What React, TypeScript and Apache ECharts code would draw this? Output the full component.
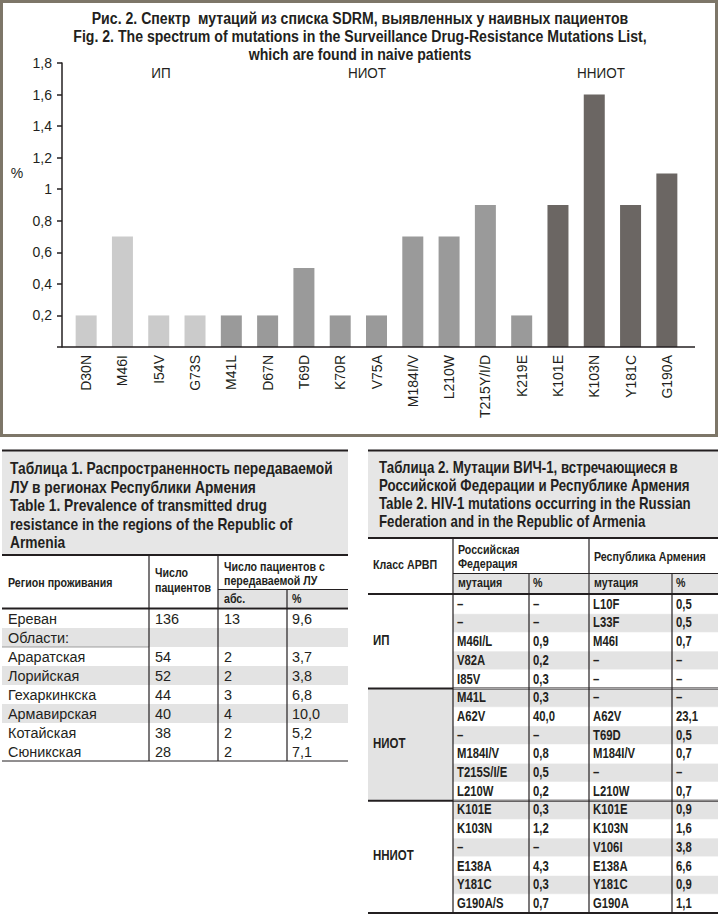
import React, { useEffect, useRef } from "react";
import * as echarts from "echarts";

// ---------- Chart data ----------
const categories = ["D30N", "M46I", "I54V", "G73S", "M41L", "D67N", "T69D", "K70R", "V75A", "M184I/V", "L210W", "T215Y/I/D", "K219E", "K101E", "K103N", "Y181C", "G190A"];
const values = [0.2, 0.7, 0.2, 0.2, 0.2, 0.2, 0.5, 0.2, 0.2, 0.7, 0.7, 0.9, 0.2, 0.9, 1.6, 0.9, 1.1];
const classOf = ["ИП", "ИП", "ИП", "ИП", "НИОТ", "НИОТ", "НИОТ", "НИОТ", "НИОТ", "НИОТ", "НИОТ", "НИОТ", "НИОТ", "ННИОТ", "ННИОТ", "ННИОТ", "ННИОТ"];
const classNames = ["ИП", "НИОТ", "ННИОТ"];
const yTicks = [0, 0.2, 0.4, 0.6, 0.8, 1, 1.2, 1.4, 1.6, 1.8];
const titleLines = [
  "Рис. 2. Спектр  мутаций из списка SDRM, выявленных у наивных пациентов",
  "Fig. 2. The spectrum of mutations in the Surveillance Drug-Resistance Mutations List,",
  "which are found in naive patients",
];

// ---------- Table 1 data ----------
const t1Title = [
  "Таблица 1. Распространенность передаваемой",
  "ЛУ в регионах Республики Армения",
  "Table 1. Prevalence of transmitted drug",
  "resistance in the regions of the Republic of",
  "Armenia",
];
const t1Regions = ["Ереван", "Области:", "Араратская", "Лорийская", "Гехаркинкска", "Армавирская", "Котайская", "Сюникская"];
const t1Patients = ["136", "", "54", "52", "44", "40", "38", "28"];
const t1Abs = ["13", "", "2", "2", "3", "4", "2", "2"];
const t1Pct = ["9,6", "", "3,7", "3,8", "6,8", "10,0", "5,2", "7,1"];

// ---------- Table 2 data ----------
const t2Title = [
  "Таблица 2. Мутации ВИЧ-1, встречающиеся в",
  "Российской Федерации и Республике Армения",
  "Table 2. HIV-1 mutations occurring in the Russian",
  "Federation and in the Republic of Armenia",
];
const t2Groups = ["ИП", "НИОТ", "ННИОТ"];
const t2GroupSizes = [5, 6, 6];
const t2RuMut = ["–", "–", "M46I/L", "V82A", "I85V", "M41L", "A62V", "–", "M184I/V", "T215S/I/E", "L210W", "K101E", "K103N", "–", "E138A", "Y181C", "G190A/S"];
const t2RuPct = ["–", "–", "0,9", "0,2", "0,3", "0,3", "40,0", "–", "0,8", "0,5", "0,2", "0,3", "1,2", "–", "4,3", "0,3", "0,7"];
const t2ArMut = ["L10F", "L33F", "M46I", "–", "–", "–", "A62V", "T69D", "M184I/V", "–", "L210W", "K101E", "K103N", "V106I", "E138A", "Y181C", "G190A"];
const t2ArPct = ["0,5", "0,5", "0,7", "–", "–", "–", "23,1", "0,5", "0,7", "–", "0,7", "0,9", "1,6", "3,8", "6,6", "0,9", "1,1"];

// ---------- Styles ----------
const INK = "#231f20";
const SANS = '"Liberation Sans", Arial, sans-serif';
const NX = 0.82; // horizontal squeeze to emulate a narrow face
const CLASS_COLORS: Record<string, string> = { "ИП": "#cbcbcb", "НИОТ": "#9a9a9a", "ННИОТ": "#6b6663" };
const GRAY = "#e3e3e3";

function txt(x: number, y: number, text: string, size: number, weight: string = "normal", align: string = "left", sx: number = NX) {
  return {
    type: "text",
    silent: true,
    z: 10,
    x,
    y,
    scaleX: sx,
    style: {
      text,
      fill: INK,
      fontSize: size,
      fontWeight: weight,
      fontFamily: SANS,
      align,
      verticalAlign: "middle",
      textAlign: align,
      textVerticalAlign: "middle",
    },
  };
}
function ln(x1: number, y1: number, x2: number, y2: number, w: number = 1, color: string = INK) {
  return { type: "line", silent: true, z: 8, shape: { x1, y1, x2, y2 }, style: { stroke: color, lineWidth: w } };
}
function rc(x: number, y: number, width: number, height: number, fill: string) {
  return { type: "rect", silent: true, z: 1, shape: { x, y, width, height }, style: { fill } };
}

function buildTable1(): any[] {
  const g: any[] = [];
  const L = 2, R = 348;
  const c1 = 149, c2 = 218, c3 = 287;
  g.push(rc(L, 451, R - L, 103, "#e6e6e6"));
  g.push(ln(L, 450.5, R, 450.5, 2));
  t1Title.forEach((s, i) => g.push(txt(10, 468 + i * 18.5, s, 16.8, "bold")));
  g.push(ln(L, 555, R, 555, 2));
  // header
  g.push(rc(c2, 590, R - c2, 17, GRAY));
  g.push(txt(8, 583, "Регион проживания", 13, "bold"));
  g.push(txt(155, 573, "Число", 13, "bold"));
  g.push(txt(155, 588, "пациентов", 13, "bold"));
  g.push(txt(224, 567, "Число пациентов с", 13, "bold"));
  g.push(txt(224, 581, "передаваемой ЛУ", 13, "bold"));
  g.push(txt(224, 599, "абс.", 13, "bold"));
  g.push(txt(292, 599, "%", 13, "bold"));
  g.push(ln(c2, 589.5, R, 589.5, 1));
  g.push(ln(L, 608.5, R, 608.5, 2));
  const top = 609, h = 19;
  t1Regions.forEach((reg, i) => {
    const y0 = top + i * h;
    if (i === 1 || i === 3 || i === 5) g.push(rc(L, y0, R - L, h, GRAY));
    const yc = y0 + h / 2;
    g.push(txt(8, yc, reg, 15.5, "normal", "left", 0.93));
    g.push(txt(155, yc, t1Patients[i], 15.5, "normal", "left", 0.93));
    g.push(txt(224, yc, t1Abs[i], 15.5, "normal", "left", 0.93));
    g.push(txt(292, yc, t1Pct[i], 15.5, "normal", "left", 0.93));
  });
  g.push(ln(L, top + 2 * h, c1, top + 2 * h, 0.8, "#888"));
  const bottom = top + t1Regions.length * h;
  g.push(ln(c1, 556, c1, bottom, 1.2));
  g.push(ln(c2, 556, c2, bottom, 1.2));
  g.push(ln(c3, 590, c3, bottom, 1.2));
  g.push(ln(L, bottom, R, bottom, 1));
  return g;
}

function buildTable2(): any[] {
  const g: any[] = [];
  const L = 368, R = 718;
  const cols = [453, 529, 589, 672];
  g.push(rc(L, 451, R - L, 86, "#e6e6e6"));
  g.push(ln(L, 450.5, R, 450.5, 2));
  t2Title.forEach((s, i) => g.push(txt(379, 468 + i * 18, s, 16.2, "bold")));
  g.push(ln(L, 538, R, 538, 2));
  // header
  g.push(rc(cols[0] + 1, 574, cols[1] - cols[0] - 2, 19, GRAY));
  g.push(rc(cols[1] + 1, 574, cols[2] - cols[1] - 2, 19, GRAY));
  g.push(rc(cols[2] + 1, 574, cols[3] - cols[2] - 2, 19, GRAY));
  g.push(rc(cols[3] + 1, 574, R - cols[3] - 1, 19, GRAY));
  g.push(txt(373, 565, "Класс АРВП", 13, "bold"));
  g.push(txt(458, 550, "Российская", 13, "bold"));
  g.push(txt(458, 564, "Федерация", 13, "bold"));
  g.push(txt(594, 557, "Республика Армения", 13, "bold"));
  g.push(txt(458, 583, "мутация", 13, "bold"));
  g.push(txt(533, 583, "%", 13, "bold"));
  g.push(txt(594, 583, "мутация", 13, "bold"));
  g.push(txt(676, 583, "%", 13, "bold"));
  g.push(ln(cols[0], 573.5, R, 573.5, 1));
  g.push(ln(L, 594, R, 594, 2));
  const top = 595, h = 18.7;
  let start = 0;
  t2Groups.forEach((name, gi) => {
    const n = t2GroupSizes[gi];
    if (gi === 1) g.push(rc(L, top + start * h, cols[0] - L, n * h, GRAY));
    g.push(txt(373, top + (start + n / 2) * h - 2, name, 14, "bold"));
    if (gi > 0) g.push(ln(L, top + start * h, R, top + start * h, 2));
    start += n;
  });
  t2RuMut.forEach((m, i) => {
    const y0 = top + i * h;
    if (i % 2 === 1) g.push(rc(cols[0], y0, R - cols[0], h, GRAY));
    if (i > 0) g.push(ln(cols[0], y0, R, y0, 0.6, "#ffffff"));
    const yc = y0 + h / 2;
    g.push(txt(457, yc, m, 13.8, "bold"));
    g.push(txt(533, yc, t2RuPct[i], 13.8, "bold"));
    g.push(txt(593, yc, t2ArMut[i], 13.8, "bold"));
    g.push(txt(676, yc, t2ArPct[i], 13.8, "bold"));
  });
  const bottom = top + t2RuMut.length * h;
  g.push(ln(cols[0], 539, cols[0], bottom, 1.2));
  g.push(ln(cols[2], 539, cols[2], bottom, 1.2));
  g.push(ln(cols[1], 574, cols[1], bottom, 1.2));
  g.push(ln(cols[3], 574, cols[3], bottom, 1.2));
  g.push(ln(L, bottom, R, bottom, 2));
  return g;
}

export default function App() {
  const ref = useRef<HTMLDivElement>(null);
  useEffect(() => {
    if (!ref.current) return;
    const chart = echarts.init(ref.current, undefined, { renderer: "svg" });
    const GRID_TOP = 63, GRID_H = 284, ZERO_Y = GRID_TOP + GRID_H;
    const graphic: any[] = [
      { type: "rect", silent: true, z: 0, shape: { x: 1.5, y: 1.5, width: 715, height: 434 }, style: { fill: "none", stroke: "#7d7668", lineWidth: 3 } },
      ln(62, ZERO_Y, 695, ZERO_Y, 1.5),
      ...titleLines.map((s, i) => txt(360, 18 + i * 18, s, 17, "bold", "center", 0.83)),
      txt(17, 173, "%", 14, "normal", "center", 1),
      txt(161, 73, classNames[0], 15, "normal", "center", 0.9),
      txt(367, 73, classNames[1], 15, "normal", "center", 0.9),
      txt(601, 73, classNames[2], 15, "normal", "center", 0.9),
      ...buildTable1(),
      ...buildTable2(),
    ];
    chart.setOption({
      animation: false,
      backgroundColor: "#ffffff",
      grid: { left: 68, top: GRID_TOP, width: 617, height: GRID_H, containLabel: false },
      xAxis: {
        type: "category",
        data: categories,
        axisLine: { show: false },
        axisTick: { show: false },
        axisLabel: { rotate: 90, fontSize: 14, fontFamily: SANS, color: INK, margin: 8, interval: 0 },
      },
      yAxis: {
        type: "value",
        min: 0,
        max: yTicks[yTicks.length - 1],
        interval: 0.2,
        offset: 6,
        splitLine: { show: false },
        axisLine: { show: true, lineStyle: { color: INK, width: 1.5 } },
        axisTick: { show: true, inside: false, length: 5, lineStyle: { color: INK, width: 1.5 } },
        axisLabel: {
          fontSize: 14,
          fontFamily: SANS,
          color: INK,
          margin: 10,
          formatter: (v: number) => {
            const t = yTicks.find((k) => Math.abs(k - v) < 1e-6);
            if (t === undefined || t === 0) return "";
            return String(Math.round(t * 10) / 10).replace(".", ",");
          },
        },
      },
      series: [
        {
          type: "bar",
          barWidth: 21,
          data: values.map((v, i) => ({ value: v, itemStyle: { color: CLASS_COLORS[classOf[i]] } })),
        },
      ],
      graphic,
    });
    return () => chart.dispose();
  }, []);
  return <div ref={ref} style={{ position: "absolute", left: 0, top: 0, width: 720, height: 915 }} />;
}
